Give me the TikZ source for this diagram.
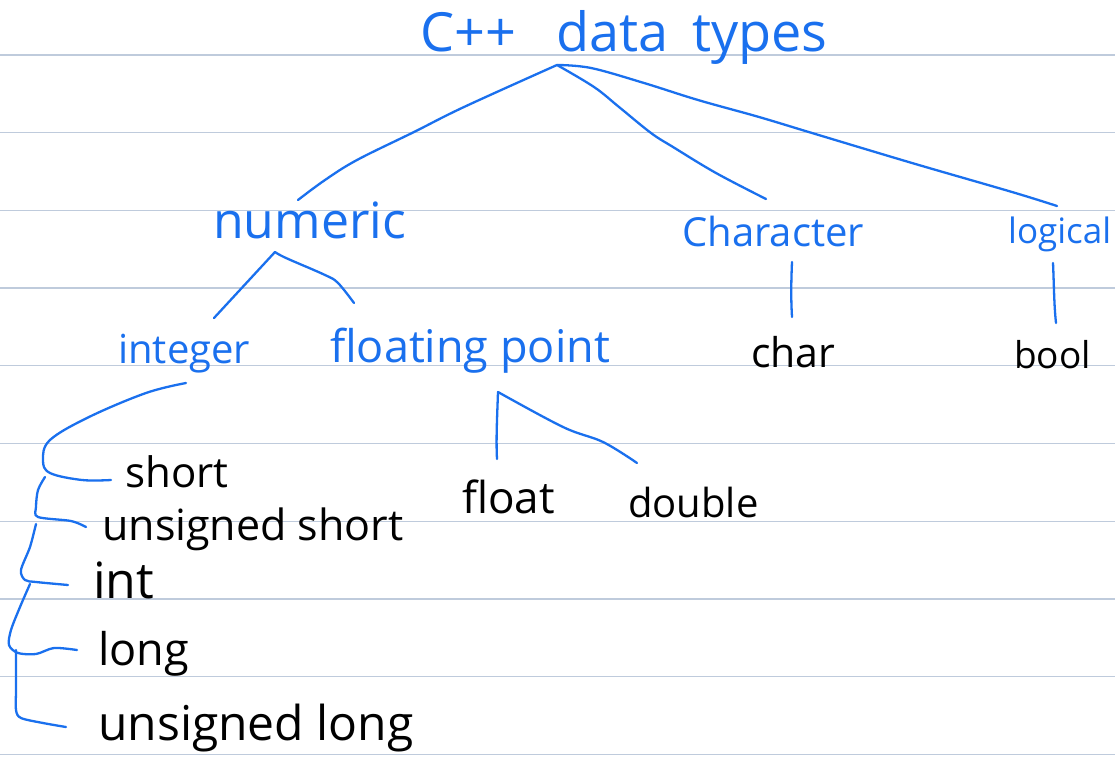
\documentclass[tikz,border=0pt]{standalone}
\usepackage{fontspec}
\setmainfont{Open Sans}
\definecolor{ink}{HTML}{1A70EE}
\definecolor{rule}{HTML}{BFCBDC}
\begin{document}
\begin{tikzpicture}[x=1pt,y=-1pt,
  hand/.style={font=\fontsize{#1}{#1}\selectfont, inner sep=0pt, anchor=base west},
  blue/.style={text=ink},
  link/.style={draw=ink, line width=2.3pt, line cap=round, line join=round},
  ruling/.style={draw=rule, line width=1.3pt}]
\useasboundingbox (0,0) rectangle (1115,773);
\fill[white] (0,0) rectangle (1115,773);
% ruled paper
\foreach \k in {0,...,9}
  \draw[ruling] (0,{55+77.7*\k}) -- (1115,{55+77.7*\k});

% labels
\node[hand=54, blue] (root) at (420,52) {C++\hspace{40pt}data\hspace{24pt}types};
\node[hand=50, blue] (numeric) at (213,238) {numeric};
\node[hand=40, blue] (character) at (682,246) {Character};
\node[hand=35, blue] (logical) at (1008,243) {logical};
\node[hand=40, blue] (integer) at (118,363) {integer};
\node[hand=45, blue] (floating) at (330,362) {floating point};
\node[hand=41] (char) at (751,367) {char};
\node[hand=37] (bool) at (1014,368) {bool};
\node[hand=44] (float) at (462,513) {float};
\node[hand=40] (double) at (628,517) {double};
\node[hand=42] (short) at (125,487) {short};
\node[hand=43] (ushort) at (102,540) {unsigned short};
\node[hand=50] (int) at (93,598) {int};
\node[hand=45] (long) at (98,665) {long};
\node[hand=48] (ulong) at (98,740) {unsigned long};

% connector ends
\coordinate (hub) at (557,65);
\coordinate (numeric-top) at (298,200);
\coordinate (character-top) at (766,199);
\coordinate (logical-top) at (1057,206);
\coordinate (character-bot) at (792,262);
\coordinate (char-top) at (792,317);
\coordinate (logical-bot) at (1053,263);
\coordinate (bool-top) at (1056,323);
\coordinate (numeric-bot) at (275,252);
\coordinate (integer-top) at (214,318);
\coordinate (floating-top) at (354,303);
\coordinate (floating-bot) at (498,392);
\coordinate (float-top) at (497,459);
\coordinate (double-top) at (637,463);
\coordinate (integer-bot) at (186,383);
\coordinate (short-end) at (111,480);
\coordinate (ushort-start) at (45,477);
\coordinate (ushort-end) at (86,527);
\coordinate (int-start) at (36,524);
\coordinate (int-end) at (68,585);
\coordinate (long-start) at (30,584);
\coordinate (long-end) at (77,650);
\coordinate (ulong-start) at (16,650);
\coordinate (ulong-end) at (66,727);

% top level branches
\draw[link] plot[smooth, tension=0.6] coordinates {(hub) (464,107) (414,132) (357,160) (325,180) (numeric-top)};
\draw[link] plot[smooth, tension=0.6] coordinates {(hub) (594,87) (619,107) (651,133) (673,147) (716,173) (character-top)};
\draw[link] plot[smooth, tension=0.6] coordinates {(hub) (591,68) (644,83) (698,100) (759,117) (812,133) (912,163) (1012,192) (logical-top)};
\draw[link] (character-bot) .. controls (791,285) and (791,300) .. (char-top);
\draw[link] (logical-bot) .. controls (1054,285) and (1054,305) .. (bool-top);

% numeric
\draw[link] (numeric-bot) -- (integer-top);
\draw[link] plot[smooth, tension=0.6] coordinates {(numeric-bot) (286,258) (325,275) (338,283) (floating-top)};

% floating point
\draw[link] (floating-bot) .. controls (497,420) and (496,440) .. (float-top);
\draw[link] plot[smooth, tension=0.6] coordinates {(floating-bot) (563,427) (603,442) (double-top)};

% integer ladder
\draw[link] plot[smooth, tension=0.6] coordinates {(integer-bot) (146,393) (89,417) (50,440) (43,460) (50,473) (82,480) (short-end)};
\draw[link] plot[smooth, tension=0.5] coordinates {(ushort-start) (38,490) (36,507) (38,517) (71,521) (ushort-end)};
\draw[link] plot[smooth, tension=0.5] coordinates {(int-start) (30,547) (21,570) (25,580) (36,582) (int-end)};
\draw[link] plot[smooth, tension=0.5] coordinates {(long-start) (20,607) (11,630) (9,645) (18,653) (36,654) (54,648) (long-end)};
\draw[link] plot[smooth, tension=0.5] coordinates {(ulong-start) (16,690) (16,710) (21,718) (43,723) (ulong-end)};
\end{tikzpicture}
\end{document}
